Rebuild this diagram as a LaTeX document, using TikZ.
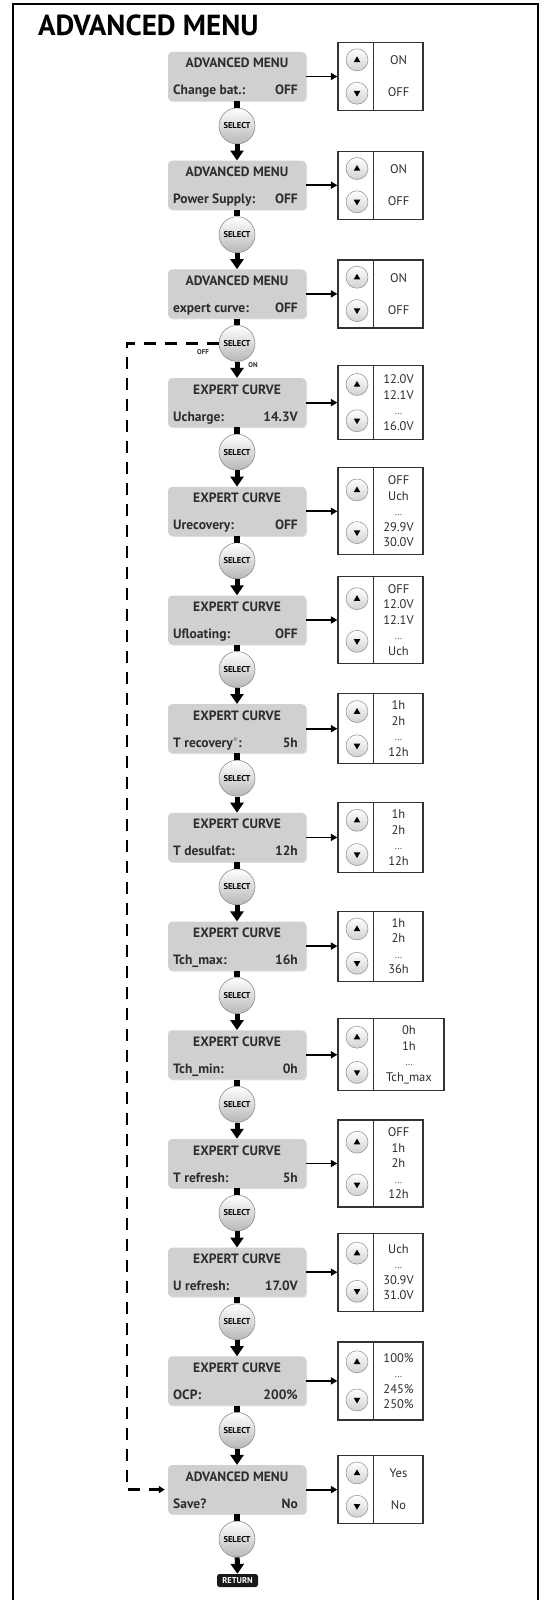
\documentclass[tikz,border=0pt]{standalone}
\usepackage{fontspec}
\setmainfont{PT Sans}
\usetikzlibrary{arrows.meta,shadows}
\definecolor{boxgray}{RGB}{208,208,208}
\definecolor{txtgray}{RGB}{45,45,45}
\newcommand{\moredots}{{\fontsize{9}{9}\selectfont...}}

\begin{document}
\begin{tikzpicture}[x=1pt,y=-1pt,
  menubox/.style={rounded corners=4pt,fill=boxgray,minimum width=138pt,minimum height=49pt,inner sep=0pt,drop shadow={shadow xshift=1pt,shadow yshift=-1pt,opacity=.25}},
  headtxt/.style={font=\fontsize{13.5}{16}\selectfont\bfseries,text=txtgray,inner sep=0pt},
  valbox/.style={draw=black!80,line width=1.2pt,fill=white,inner sep=0pt},
  valtxt/.style={font=\fontsize{12.5}{15.5}\selectfont,text=txtgray,align=center,inner sep=0pt},
  selbtn/.style={circle,minimum size=36pt,inner sep=0pt,top color=white,bottom color=black!28,draw=black!45,line width=.6pt,font=\fontsize{8.5}{10}\selectfont\bfseries},
  updown/.style={circle,minimum size=22pt,inner sep=0pt,top color=white,bottom color=black!18,draw=black!45,line width=.5pt},
  stem/.style={line width=5.5pt},
  nextarrow/.style={line width=5pt,-{Triangle[length=10pt,width=13pt]}},
  setarrow/.style={line width=1.8pt,-{Triangle[length=6.5pt,width=7pt]}},
  dashline/.style={line width=2.5pt,dash pattern=on 12pt off 9pt,shorten >=3pt,-{Triangle[length=6pt,width=7pt]}},
  tinytxt/.style={font=\fontsize{7}{8}\selectfont\bfseries,text=txtgray,inner sep=0pt},
  retbtn/.style={rounded corners=2.5pt,fill=black!90,text=white,font=\fontsize{8.5}{10}\selectfont\bfseries,minimum width=41pt,minimum height=13pt,inner sep=0pt}]
\useasboundingbox (0,0) rectangle (544,1600);
\draw[line width=2.5pt] (13,1600) -- (13,4) -- (538,4) -- (538,1600);
\node[anchor=base west,font=\fontsize{29}{34}\selectfont\bfseries,inner sep=0pt] (title) at (38,36) {ADVANCED MENU};
\foreach \i/\head/\lab/\val/\vals/\h/\w in {
  0/ADVANCED MENU/Change bat.:/OFF/{ON\\[16.5pt]OFF}/68/85,
  1/ADVANCED MENU/Power Supply:/OFF/{ON\\[16.5pt]OFF}/68/85,
  2/ADVANCED MENU/expert curve:/OFF/{ON\\[16.5pt]OFF}/68/85,
  3/EXPERT CURVE/Ucharge:/14.3V/{12.0V\\12.1V\\\moredots\\16.0V}/74/85,
  4/EXPERT CURVE/Urecovery:/OFF/{OFF\\Uch\\\moredots\\29.9V\\30.0V}/87/85,
  5/EXPERT CURVE/Ufloating:/OFF/{OFF\\12.0V\\12.1V\\\moredots\\Uch}/87/85,
  6/EXPERT CURVE/{T recovery\textcolor{black!45}{*}:}/5h/{1h\\2h\\\moredots\\12h}/70/85,
  7/EXPERT CURVE/T desulfat:/12h/{1h\\2h\\\moredots\\12h}/70/85,
  8/EXPERT CURVE/Tch\_max:/16h/{1h\\2h\\\moredots\\36h}/70/85,
  9/EXPERT CURVE/Tch\_min:/0h/{0h\\1h\\\moredots\\Tch\_max}/72/106,
  10/EXPERT CURVE/T refresh:/5h/{OFF\\1h\\2h\\\moredots\\12h}/87/85,
  11/EXPERT CURVE/U refresh:/17.0V/{Uch\\\moredots\\30.9V\\31.0V}/78/85,
  12/EXPERT CURVE/OCP:/200\%/{100\%\\\moredots\\245\%\\250\%}/78/85,
  13/ADVANCED MENU/Save?/No/{Yes\\[16.5pt]No}/68/85}{
  \pgfmathsetmacro{\yc}{76.5+108.7*\i}
  \pgfmathsetmacro{\off}{0.245*\h}
  \node[menubox] (menu\i) at (237,\yc) {};
  \node[headtxt,anchor=base] (head\i) at (237,\yc-8.5) {\head};
  \node[headtxt,anchor=base west] (lab\i) at (173,\yc+18.5) {\lab};
  \node[headtxt,anchor=base east] (set\i) at (298,\yc+18.5) {\val};
  \node[valbox,minimum width=\w pt,minimum height=\h pt] (vals\i) at (338+\w/2,\yc) {};
  \draw[black!80,line width=1.2pt] ([xshift=36pt]vals\i.north west) -- ([xshift=36pt]vals\i.south west);
  \node[updown] (up\i) at (357,\yc-\off) {};
  \node[updown] (dn\i) at (357,\yc+\off) {};
  \fill (up\i) +(0,-3.5) -- +(3.3,2.2) -- +(-3.3,2.2) -- cycle;
  \fill (dn\i) +(0,3.5) -- +(3.3,-2.2) -- +(-3.3,-2.2) -- cycle;
  \node[valtxt] (list\i) at (356+\w/2,\yc) {\vals};
  \draw[setarrow] (menu\i.east) -- (vals\i.west);
  \node[selbtn] (sel\i) at (237,\yc+49.5) {SELECT};
  \draw[stem] (menu\i.south) -- (sel\i.north);
}
\foreach \i [evaluate=\i as \j using int(\i+1)] in {0,...,12}
  \draw[nextarrow] (sel\i) -- (menu\j);
\node[retbtn] (ret) at (237.5,1580.5) {RETURN};
\draw[nextarrow] (sel13) -- (ret);
\node[tinytxt] (offlbl) at (203,352) {OFF};
\node[tinytxt] (onlbl) at (253,365) {ON};
\coordinate (dashx) at (127,0);
\draw[dashline] (sel2.west) -- (sel2.west -| dashx) |- (menu13.west);
\end{tikzpicture}
\end{document}
